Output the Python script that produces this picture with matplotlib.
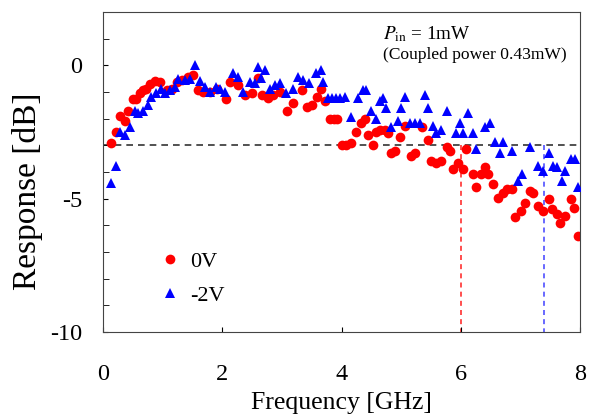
import matplotlib.pyplot as plt
from matplotlib.lines import Line2D

plt.rcParams["font.family"] = ["Liberation Serif", "DejaVu Serif"]
plt.rcParams["mathtext.fontset"] = "stix"
plt.rcParams["axes.unicode_minus"] = False

# 0V response (red circles)
f_0v = [0.13, 0.22, 0.29, 0.37, 0.42, 0.50, 0.56, 0.62, 0.67, 0.72, 0.79, 0.87, 0.96,
        1.07, 1.16, 1.24, 1.32, 1.43, 1.51, 1.60, 1.68, 1.80, 1.91, 2.06, 2.13, 2.27,
        2.38, 2.50, 2.60, 2.67, 2.77, 2.85, 2.97, 3.09, 3.19, 3.34, 3.42, 3.50, 3.59,
        3.66, 3.72, 3.80, 3.87, 3.93, 4.00, 4.08, 4.16, 4.25, 4.33, 4.40, 4.45, 4.53,
        4.58, 4.65, 4.73, 4.78, 4.83, 4.90, 4.98, 5.07, 5.17, 5.23, 5.34, 5.45, 5.50,
        5.59, 5.67, 5.76, 5.82, 5.87, 5.96, 6.04, 6.09, 6.21, 6.26, 6.33, 6.41, 6.46,
        6.54, 6.63, 6.70, 6.78, 6.86, 6.91, 7.00, 7.08, 7.16, 7.21, 7.30, 7.37, 7.47,
        7.53, 7.62, 7.67, 7.75, 7.84, 7.89, 7.97]
r_0v = [-2.93, -2.50, -1.90, -2.10, -1.70, -1.25, -1.25, -1.05, -0.94, -0.87, -0.70, -0.58, -0.62,
        -0.94, -0.87, -0.64, -0.56, -0.45, -0.38, -0.94, -1.00, -1.00, -0.87, -1.25, -0.64, -0.75,
        -1.13, -1.05, -0.49, -1.13, -1.24, -1.13, -1.00, -1.70, -1.43, -0.94, -1.58, -1.50, -1.20,
        -0.87, -1.32, -2.00, -2.00, -2.00, -3.00, -3.00, -2.93, -2.50, -2.15, -2.00, -2.60, -3.00,
        -2.50, -2.44, -2.44, -2.55, -3.30, -3.20, -2.70, -2.26, -3.40, -3.30, -2.33, -2.80, -3.57,
        -3.65, -3.57, -3.08, -3.20, -3.90, -3.65, -3.90, -3.12, -4.06, -4.55, -4.06, -3.83, -4.06,
        -4.44, -4.96, -4.80, -4.62, -4.62, -5.70, -5.45, -5.15, -4.70, -4.80, -5.26, -5.45, -5.00,
        -5.37, -5.56, -5.90, -5.64, -5.00, -5.34, -6.39]

# -2V response (blue triangles)
f_2v = [0.13, 0.22, 0.29, 0.37, 0.45, 0.54, 0.59, 0.67, 0.76, 0.80, 0.89, 0.97, 1.04,
        1.12, 1.21, 1.26, 1.38, 1.46, 1.54, 1.63, 1.71, 1.80, 1.90, 1.96, 2.05, 2.18,
        2.27, 2.35, 2.47, 2.55, 2.60, 2.65, 2.72, 2.80, 2.89, 2.97, 3.07, 3.19, 3.27,
        3.36, 3.45, 3.57, 3.66, 3.69, 3.77, 3.84, 3.91, 3.98, 4.06, 4.16, 4.28, 4.36,
        4.41, 4.50, 4.58, 4.65, 4.70, 4.75, 4.83, 4.95, 5.00, 5.07, 5.15, 5.23, 5.32,
        5.40, 5.45, 5.54, 5.59, 5.67, 5.76, 5.91, 5.99, 6.04, 6.12, 6.21, 6.26, 6.41,
        6.49, 6.58, 6.66, 6.71, 6.86, 6.96, 7.03, 7.16, 7.30, 7.37, 7.47, 7.55, 7.62,
        7.70, 7.75, 7.84, 7.92, 7.97]
r_2v = [-4.40, -3.76, -2.50, -2.63, -2.33, -1.70, -1.77, -1.70, -1.50, -1.20, -1.05, -0.87, -1.05,
        -0.94, -0.83, -0.53, -0.56, -0.50, 0.00, -0.60, -0.83, -1.00, -0.83, -0.87, -1.00, -0.30,
        -0.45, -1.00, -0.64, -0.68, -0.08, -0.49, -0.19, -0.87, -0.75, -0.68, -1.05, -0.87, -0.45,
        -0.56, -0.68, -0.30, -0.19, -0.64, -1.24, -1.24, -1.24, -1.24, -1.20, -1.95, -1.24, -0.94,
        -0.94, -1.70, -2.00, -1.32, -1.24, -1.60, -2.33, -2.07, -1.60, -1.20, -2.18, -2.18, -2.18,
        -1.13, -1.60, -2.26, -2.55, -2.44, -1.70, -2.52, -2.18, -2.52, -1.77, -2.55, -3.12, -2.33,
        -2.18, -2.89, -3.27, -2.89, -3.20, -4.32, -4.06, -3.08, -3.76, -3.95, -3.27, -3.76, -3.83,
        -4.32, -3.95, -3.50, -3.50, -4.58]

f3db_0v = 6.0
f3db_2v = 7.4

fig = plt.figure(figsize=(5.92, 4.15), dpi=100)
ax = fig.add_axes([0.174, 0.2, 0.806, 0.771])

ax.plot(f_2v, r_2v, "^", color="#0000ff", markersize=7.5, markeredgewidth=0, zorder=3)
ax.plot(f_0v, r_0v, "o", color="#ff0000", markersize=7, markeredgewidth=0, zorder=2)

ax.axhline(-3, color="#333333", linestyle=(0, (4, 3)), linewidth=1.2, zorder=1)
ax.plot([f3db_0v, f3db_0v], [-3, -10], color="#ff3030", linestyle=(0, (3, 2.5)), linewidth=1.2, zorder=1)
ax.plot([f3db_2v, f3db_2v], [-3, -10], color="#4f4fff", linestyle=(0, (3, 2.5)), linewidth=1.2, zorder=1)

ax.set_xlim(0, 8)
ax.set_ylim(-10, 2)
ax.set_xticks([0, 2, 4, 6, 8])
ax.set_yticks([0, -5, -10])
ax.set_yticks(range(-10, 3), minor=True)
ax.tick_params(which="both", direction="in", labelsize=17.5)
ax.tick_params(which="minor", length=4)
ax.tick_params(axis="x", pad=23)
ax.tick_params(axis="y", pad=15)
for s in ax.spines.values():
    s.set_color("#444444")

ax.set_xlabel("Frequency [GHz]", fontsize=18.5, va="bottom")
ax.xaxis.set_label_coords(0.5, -0.256)
ax.set_ylabel("Response [dB]", fontsize=24)
ax.yaxis.set_label_coords(-0.125, 0.44)

ax.text(0.587, 0.93, r"$P_{\rm in}$ = 1mW", transform=ax.transAxes, fontsize=13.8, va="center")
ax.text(0.587, 0.866, "(Coupled power 0.43mW)", transform=ax.transAxes, fontsize=12.6, va="center")

handles = [Line2D([], [], marker="o", linestyle="none", color="#ff0000", markersize=7, markeredgewidth=0),
           Line2D([], [], marker="^", linestyle="none", color="#0000ff", markersize=7.5, markeredgewidth=0)]
ax.legend(handles, ["0V", "-2V"], loc="lower left", bbox_to_anchor=(0.075, 0.02), frameon=False,
          fontsize=16, handletextpad=0.4, labelspacing=0.6, handlelength=1.0)

fig.savefig("out.png", dpi=100)
